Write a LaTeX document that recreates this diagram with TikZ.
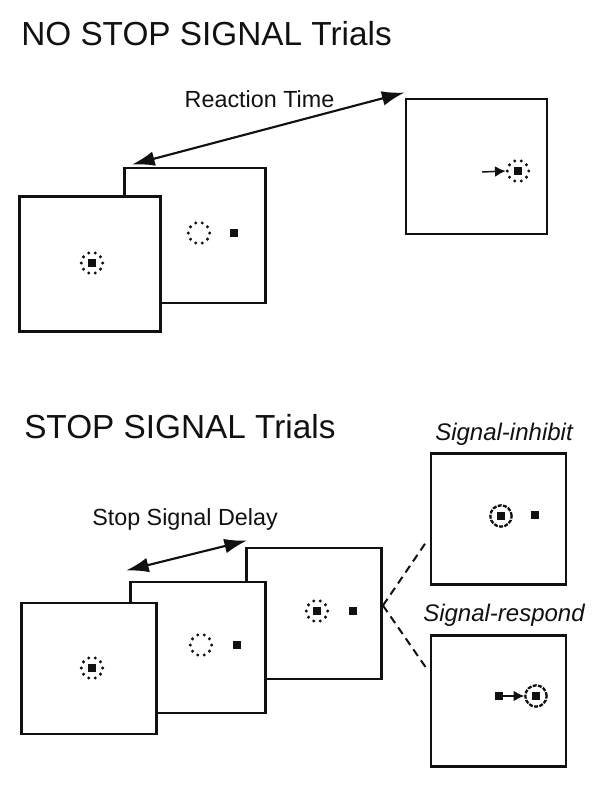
\documentclass[tikz,border=0pt]{standalone}
\usepackage{fontspec}
\setmainfont{Liberation Sans}
\usepackage{tikz}
\usetikzlibrary{arrows.meta,calc}
\definecolor{inkblack}{HTML}{111111}
\tikzstyle{title} = [font=\fontsize{25}{30}\selectfont, text=inkblack, inner sep=0pt]
\tikzstyle{label} = [font=\fontsize{17.5}{21}\selectfont, text=inkblack, inner sep=0pt]
\tikzstyle{outcome} = [font=\fontsize{18}{22}\selectfont\itshape, text=inkblack, inner sep=0pt]
\tikzstyle{screen} = [draw=inkblack, fill=white, line width=2.2pt, minimum width=105.75pt, minimum height=101.25pt, inner sep=0pt]
\tikzstyle{smallscreen} = [screen, minimum width=101.25pt, minimum height=98.25pt]
\tikzstyle{fixring} = [circle, draw=inkblack, line width=2.5pt, line cap=round, dash pattern=on 0pt off 5pt, minimum size=16pt, inner sep=0pt]
\tikzstyle{solidring} = [circle, draw=inkblack, line width=1.7pt, dash pattern=on 3pt off 1pt, minimum size=16pt, inner sep=0pt]
\tikzstyle{target} = [fill=inkblack, minimum size=6pt, inner sep=0pt]
\tikzstyle{arrow} = [{Latex[length=17pt,width=11pt]}-{Latex[length=17pt,width=11pt]}, line width=1.6pt, inkblack]
\tikzstyle{saccade} = [-{Latex[length=8pt,width=8pt]}, line width=1.1pt, inkblack]

\begin{document}
\begin{tikzpicture}[x=0.75pt, y=-0.75pt]
\useasboundingbox (0,0) rectangle (606,800);

% no stop signal trials
\node[title, anchor=base west] (notitle) at (21,45) {NO STOP SIGNAL Trials};
\node[screen] (nsback) at (195,235.5) {};
\node[screen] (nsfront) at (90,264) {};
\node[screen] (nsresp) at (476.5,166.5) {};

\node[label, anchor=base] (rtlabel) at (259.5,107) {Reaction Time};
\draw[arrow] ([shift={(9,-2)}]nsback.north west) -- ([shift={(0,-5)}]nsresp.north west);

% stop signal trials
\node[title, anchor=base west] (sstitle) at (24,438) {STOP SIGNAL Trials};
\node[smallscreen] (sssignal) at (314,613.5) {};
\node[smallscreen] (ssback) at (198,647.5) {};
\node[smallscreen] (ssfront) at (89,668.5) {};
\node[smallscreen] (ssinhibit) at (498.5,519) {};
\node[smallscreen] (ssrespond) at (498.5,701) {};

\node[label, anchor=base] (ssdlabel) at (185,525) {Stop Signal Delay};
\node[outcome, anchor=base] (inhlabel) at (504,440) {Signal-inhibit};
\node[outcome, anchor=base] (reslabel) at (504,621) {Signal-respond};
\draw[arrow] ([shift={(-3,-10)}]ssback.north west) -- ([shift={(2,-6)}]sssignal.north west);
\draw[inkblack, line width=1.5pt, dash pattern=on 6pt off 4pt] ([yshift=6]sssignal.east) -- ([shift={(-4,24)}]ssinhibit.west);
\draw[inkblack, line width=1.5pt, dash pattern=on 6pt off 4pt] ([yshift=6]sssignal.east) -- ([shift={(-4,-34)}]ssrespond.west);

% fixation rings with the square inside
\foreach \id/\x/\y in {nsfix/92/263, ssfix/92/668, sssig/317/611}{
  \node[fixring] (\id) at (\x,\y) {};
  \node[target] at (\id) {};
}
% empty rings and the peripheral square
\foreach \id/\x/\y/\tx in {nsgap/199/233/234, ssgap/201/645/237}{
  \node[fixring] (\id) at (\x,\y) {};
  \node[target] (\id t) at (\tx,\y) {};
}
\node[target] (sssigt) at (352.5,611) {};

% responses
\node[fixring] (nsland) at (518,171) {};
\node[target] at (nsland) {};
\coordinate (nsfrom) at (482,172);
\draw[saccade] (nsfrom) -- (nsland.west);

\node[solidring] (inhring) at (501,516) {};
\node[target] at (inhring) {};
\node[target] (inht) at (535,515) {};

\node[target] (rest) at (499,696) {};
\node[solidring] (resring) at (536,696) {};
\node[target] at (resring) {};
\draw[saccade] (rest) -- (resring.west);
\end{tikzpicture}
\end{document}
